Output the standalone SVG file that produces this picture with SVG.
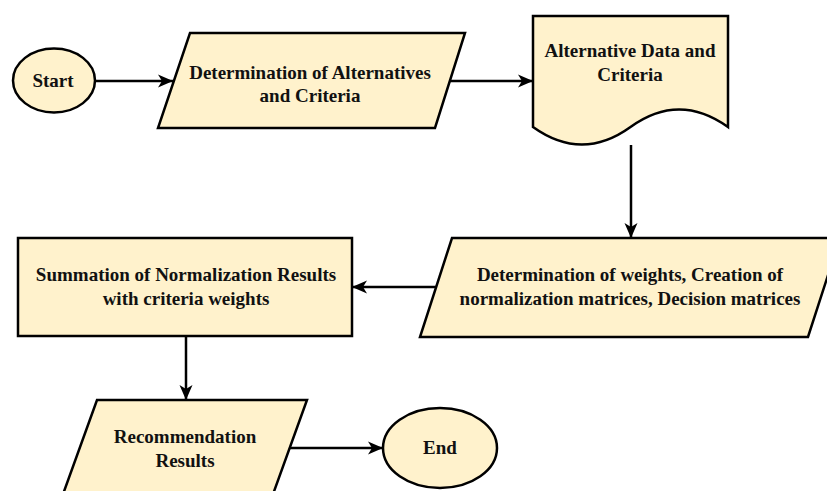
<svg xmlns="http://www.w3.org/2000/svg" width="827" height="491" viewBox="0 0 827 491">
  <style>
    .shape { fill: #FFF2CC; stroke: #000; stroke-width: 2.5; stroke-linejoin: miter; }
    .label { font-family: 'Liberation Serif', 'Times New Roman', serif; font-weight: 700; font-size: 19px; fill: #111; text-anchor: middle; }
    .conn { fill: none; stroke: #000; stroke-width: 2.5; marker-end: url(#arrow); }
  </style>
  <defs>
    <marker id="arrow" markerUnits="userSpaceOnUse" markerWidth="16" markerHeight="14" refX="15" refY="7" orient="auto" viewBox="0 0 16 14">
      <path d="M0,0.5 L15,7 L0,13.5 L4,7 Z" fill="#000"/>
    </marker>
  </defs>
  <rect width="827" height="491" fill="#fff"/>

  <g id="connectors">
    <path class="conn" d="M95,81 H173"/>
    <path class="conn" d="M450,81 H533"/>
    <path class="conn" d="M631,145 V238"/>
    <path class="conn" d="M436,287 H352"/>
    <path class="conn" d="M186,336 V400"/>
    <path class="conn" d="M290,448 H383"/>
  </g>

  <g id="start">
    <ellipse class="shape" cx="54" cy="80.5" rx="41" ry="32"/>
    <text class="label" font-family="Liberation Serif" x="53" y="87">Start</text>
  </g>

  <g id="determination-alternatives">
    <polygon class="shape" points="190,33 465,33 435,128 158,128"/>
    <text class="label" font-family="Liberation Serif" x="310" y="79">Determination of Alternatives</text>
    <text class="label" font-family="Liberation Serif" x="310" y="102">and Criteria</text>
  </g>

  <g id="alternative-data">
    <path class="shape" d="M533,16 H728 V127 Q679,92 630.5,127 Q582,162 533,127 Z"/>
    <text class="label" font-family="Liberation Serif" x="630" y="57">Alternative Data and</text>
    <text class="label" font-family="Liberation Serif" x="630" y="81">Criteria</text>
  </g>

  <g id="determination-weights">
    <polygon class="shape" points="452,238 840,238 808,337 420,337"/>
    <text class="label" font-family="Liberation Serif" x="630" y="281">Determination of weights, Creation of</text>
    <text class="label" font-family="Liberation Serif" x="630" y="305">normalization matrices, Decision matrices</text>
  </g>

  <g id="summation">
    <rect class="shape" x="18" y="238" width="334" height="98"/>
    <text class="label" font-family="Liberation Serif" x="186" y="281">Summation of Normalization Results</text>
    <text class="label" font-family="Liberation Serif" x="186" y="305">with criteria weights</text>
  </g>

  <g id="recommendation">
    <polygon class="shape" points="97,400 307,400 272,497 62,497"/>
    <text class="label" font-family="Liberation Serif" x="185" y="443">Recommendation</text>
    <text class="label" font-family="Liberation Serif" x="185" y="467">Results</text>
  </g>

  <g id="end">
    <ellipse class="shape" cx="440" cy="448" rx="57" ry="40"/>
    <text class="label" font-family="Liberation Serif" x="440" y="454">End</text>
  </g>
</svg>
